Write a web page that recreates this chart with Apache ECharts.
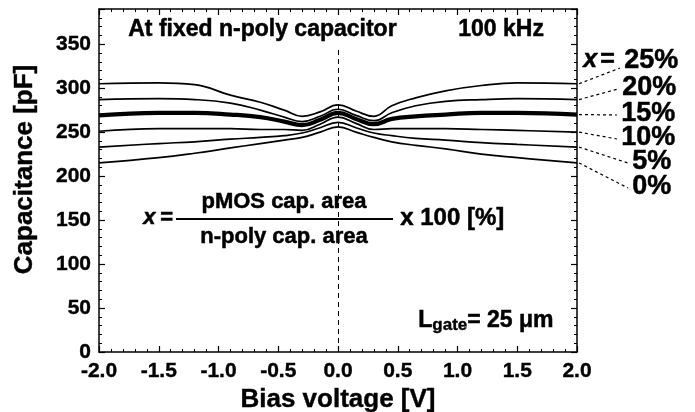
<!DOCTYPE html>
<html>
<head>
<meta charset="utf-8">
<script src="https://cdn.jsdelivr.net/npm/echarts@6/dist/echarts.min.js"></script>
<style>
  html, body { margin: 0; padding: 0; background: #fff; }
</style>
</head>
<body>
<div id="main" style="width: 695px; height: 412px;"></div>
<script>
  // bias voltage points (V)
  var biasV = [-2.0, -1.5, -1.2, -0.9, -0.65, -0.45, -0.3, -0.15, 0, 0.15, 0.3, 0.45, 0.65, 0.9, 1.2, 1.5, 2.0];
  // capacitance (pF) for each pMOS area ratio
  var cap25 = [305, 306, 304, 292, 284, 275, 268, 273, 281, 274, 268, 280, 289, 297, 303, 306, 305];
  var cap20 = [287, 288, 287, 283, 275, 267, 262, 268, 276, 269, 263, 272, 280, 285, 287, 288, 287];
  var cap15 = [269, 272, 272, 270, 267, 262, 258, 264, 272, 265, 259, 265, 268, 270, 272, 272, 270];
  var cap10 = [251, 254, 254, 254, 253, 253, 252, 259, 267, 260, 253, 254, 254, 254, 253, 252, 250];
  var cap5  = [233, 237, 239, 242, 244, 246, 249, 255, 261, 255, 249, 246, 243, 241, 238, 236, 233];
  var cap0  = [215, 221, 226, 232, 237, 241, 244, 250, 256, 250, 244, 239, 235, 231, 225, 221, 215];
  var ratioLabels = ['25%', '20%', '15%', '10%', '5%', '0%'];
  var xTicks = { min: -2, max: 2, step: 0.5 };
  var yTicks = { min: 0, max: 390, step: 50 };

  var FONT = "'Liberation Sans', Arial, sans-serif";
  var curves = [cap25, cap20, cap15, cap10, cap5, cap0];

  function pairs(ys) {
    return biasV.map(function (x, i) { return [x, ys[i]]; });
  }

  var myChart = echarts.init(document.getElementById('main'));

  function axisBase(showLabel) {
    return {
      type: 'value',
      splitLine: { show: false },
      axisLine: { show: true, onZero: false, lineStyle: { color: '#000', width: 1.5 } },
      axisTick: { show: true, inside: true, length: 6, lineStyle: { color: '#000', width: 1.2 } },
      minorTick: { show: true, splitNumber: 5, length: 3, lineStyle: { color: '#000', width: 1 } },
      axisLabel: {
        show: showLabel, color: '#000', fontFamily: FONT, fontWeight: 'bold', fontSize: 21,
        textBorderColor: '#000', textBorderWidth: 0.4
      }
    };
  }

  var nameStyle = {
    color: '#000', fontFamily: FONT, fontWeight: 'bold', fontSize: 26,
    textBorderColor: '#000', textBorderWidth: 0.4
  };

  var xBottom = axisBase(true);
  xBottom.min = xTicks.min; xBottom.max = xTicks.max; xBottom.interval = xTicks.step;
  xBottom.position = 'bottom';
  xBottom.axisLabel.margin = 9;
  xBottom.axisLabel.formatter = function (v) { return v.toFixed(1); };
  xBottom.name = 'Bias voltage [V]';
  xBottom.nameLocation = 'middle';
  xBottom.nameGap = 35;
  xBottom.nameTextStyle = nameStyle;

  var xTop = axisBase(false);
  xTop.min = xTicks.min; xTop.max = xTicks.max; xTop.interval = xTicks.step;
  xTop.position = 'top';

  var yLeft = axisBase(true);
  yLeft.min = yTicks.min; yLeft.max = yTicks.max; yLeft.interval = yTicks.step;
  yLeft.position = 'left';
  yLeft.axisLabel.margin = 8;
  yLeft.axisLabel.showMaxLabel = false;
  yLeft.name = 'Capacitance [pF]';
  yLeft.nameLocation = 'middle';
  yLeft.nameGap = 61;
  yLeft.nameTextStyle = Object.assign({}, nameStyle, { padding: [0, 0, 0, 22] });

  var yRight = axisBase(false);
  yRight.min = yTicks.min; yRight.max = yTicks.max; yRight.interval = yTicks.step;
  yRight.position = 'right';

  var series = curves.map(function (ys, i) {
    var s = {
      name: ratioLabels[i],
      type: 'line',
      smooth: 0.45,
      showSymbol: false,
      data: pairs(ys),
      lineStyle: { color: '#000', width: i === 2 ? 4.2 : 1.7 },
      z: 3
    };
    if (i === 0) {
      // dashed guide at 0 V
      s.markLine = {
        silent: true,
        symbol: 'none',
        label: { show: false },
        lineStyle: { color: '#000', type: [5, 4], width: 1 },
        data: [[{ coord: [0, 0] }, { coord: [0, 345] }]]
      };
    }
    return s;
  });

  var textStyle = {
    fill: '#000', fontFamily: FONT, fontWeight: 'bold', fontSize: 22,
    stroke: '#000', lineWidth: 0.5
  };

  function txt(left, top, text, extra) {
    var st = Object.assign({}, textStyle, { text: text }, extra || {});
    return { type: 'text', left: left, top: top, style: st, z: 10 };
  }

  // centred text, positioned by its middle point
  function ctxt(cx, cy, text) {
    var st = Object.assign({}, textStyle, { text: text, x: cx, y: cy, textAlign: 'center', textVerticalAlign: 'middle' });
    return { type: 'text', style: st, z: 10 };
  }

  var option = {
    animation: false,
    grid: { left: 99, right: 118, top: 9, bottom: 60, containLabel: false, outerBoundsMode: 'none' },
    xAxis: [xBottom, xTop],
    yAxis: [yLeft, yRight],
    series: series,
    graphic: [
      txt(128, 18, 'At fixed n-poly capacitor', { fontSize: 23 }),
      txt(458, 18, '100 kHz', { fontSize: 23 }),
      // formula
      txt(143, 207, 'x', { fontStyle: 'italic' }),
      txt(160, 207, '='),
      ctxt(284, 202, 'pMOS cap. area'),
      ctxt(284, 237, 'n-poly cap. area'),
      { type: 'line', shape: { x1: 176, y1: 219, x2: 393, y2: 219 }, style: { stroke: '#000', lineWidth: 2 }, z: 10 },
      txt(400, 206, 'x 100 [%]', { fontSize: 24 }),
      // gate length
      {
        type: 'text', left: 418, top: 309, z: 10,
        style: {
          text: '{a|L}{b|gate}{a|= 25 \u03bcm}',
          fill: '#000', fontFamily: FONT, fontWeight: 'bold',
          rich: {
            a: { fontSize: 23, fontFamily: FONT, fontWeight: 'bold', fill: '#000', stroke: '#000', lineWidth: 0.5 },
            b: { fontSize: 17, fontFamily: FONT, fontWeight: 'bold', fill: '#000', stroke: '#000', lineWidth: 0.4, verticalAlign: 'bottom', padding: [10, 0, 0, 0] }
          }
        }
      }
    ]
  };

  myChart.setOption(option);

  // ratio labels with dashed leaders from the curve ends
  var labelPos = [[624, 62], [622, 89], [621, 115], [621, 139], [632, 163], [632, 188]];
  var extra = [
    txt(583, 47, 'x', { fontStyle: 'italic', fontSize: 25 }),
    txt(600, 47, '=', { fontSize: 25 })
  ];
  curves.forEach(function (ys, i) {
    var p = myChart.convertToPixel({ xAxisIndex: 0, yAxisIndex: 0 }, [biasV[biasV.length - 1], ys[ys.length - 1]]);
    var lp = labelPos[i];
    extra.push({
      type: 'line', z: 9,
      shape: { x1: p[0] + 2, y1: p[1], x2: lp[0] - 4, y2: lp[1] + (i === 0 ? 6 : 0) },
      style: { stroke: '#000', lineWidth: 1.2, lineDash: [3, 3] }
    });
    extra.push({
      type: 'text', left: lp[0], top: lp[1] - 15, z: 10,
      style: {
        text: ratioLabels[i], fill: '#000', fontFamily: FONT, fontWeight: 'bold', fontSize: 27,
        stroke: '#000', lineWidth: 0.5
      }
    });
  });
  myChart.setOption({ graphic: option.graphic.concat(extra) });
</script>
</body>
</html>
